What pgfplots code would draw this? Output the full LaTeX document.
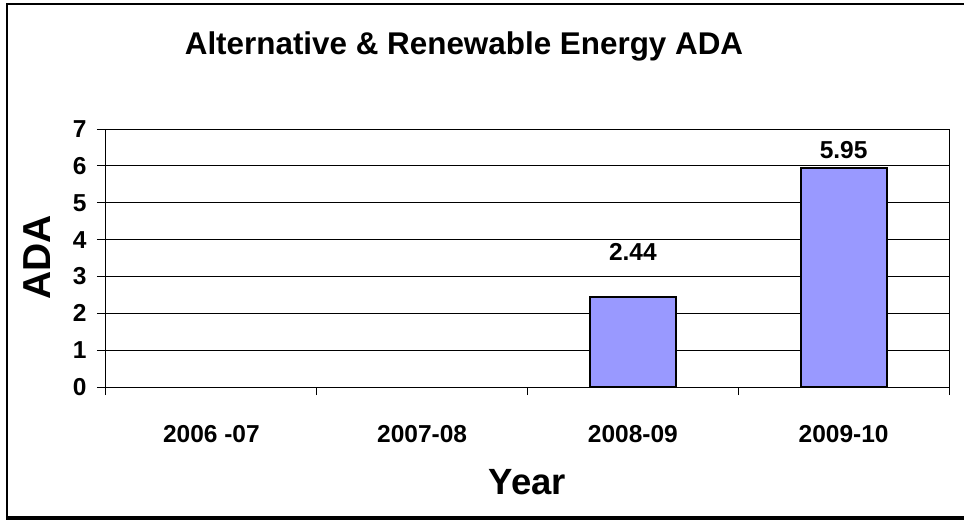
\documentclass[border=0pt]{standalone}
\usepackage{fontspec}
\setmainfont{Liberation Sans}
\usepackage{pgfplots}
\pgfplotsset{compat=1.18}
\definecolor{barblue}{HTML}{9999FF}

\begin{document}
\begin{tikzpicture}
\useasboundingbox (0,0) rectangle (482pt,-260pt);
% chart area frame
\draw[line width=1pt] (490pt,-2pt) -- (3.5pt,-2pt) -- (3.5pt,-259pt);
\draw[line width=2pt] (3pt,-259pt) -- (490pt,-259pt);
\begin{axis}[
    at={(53pt,-193.5pt)}, anchor=south west,
    scale only axis, width=421.5pt, height=129pt,
    xmin=-0.5, xmax=3.5, ymin=0, ymax=7,
    ytick={0,1,2,3,4,5,6,7},
    xtick={0,1,2,3},
    xticklabels={2006 -07,2007-08,2008-09,2009-10},
    minor xtick={-0.5,0.5,1.5,2.5,3.5},
    major x tick style={draw=none},
    tick align=outside, tick pos=left,
    major tick length=4.5pt, minor tick length=4pt,
    tick style={black, line width=0.5pt},
    ymajorgrids, grid style={black, line width=0.5pt},
    axis line style={line width=0.5pt},
    /pgf/number format/assume math mode=true,
    ticklabel style={font=\bfseries\fontsize{12.25}{14}\selectfont},
    yticklabel style={anchor=east, inner sep=0pt, xshift=-5pt},
    xticklabel style={anchor=base, inner sep=0pt, yshift=-23pt},
    title={Alternative \& Renewable Energy ADA},
    title style={font=\bfseries\fontsize{15.7}{18}\selectfont, at={(rel axis cs:0.4247,1.244)}, anchor=base},
    xlabel={Year},
    xlabel style={font=\bfseries\fontsize{18.25}{20}\selectfont, at={(rel axis cs:0.5,-0.4147)}, anchor=base},
    ylabel={ADA},
    ylabel style={font=\bfseries\fontsize{19.5}{22}\selectfont, at={(rel axis cs:-0.0813,0.502)}, anchor=center},
]
    % 2006-07 and 2007-08 are 0 and show no bar in the original
    \addplot[ybar, bar width=43pt, fill=barblue, draw=black, line width=1pt] coordinates {
        (2,2.44) (3,5.95)
    };
    % data labels (Excel placed them well above the bars)
    \addplot[draw=none, mark=none, nodes near coords, point meta=explicit symbolic,
        nodes near coords style={anchor=base, inner sep=0pt, font=\bfseries\fontsize{12.25}{14}\selectfont}]
        coordinates {
        (2,3.446) [2.44]
        (3,6.205) [5.95]
    };
\end{axis}
\end{tikzpicture}
\end{document}
